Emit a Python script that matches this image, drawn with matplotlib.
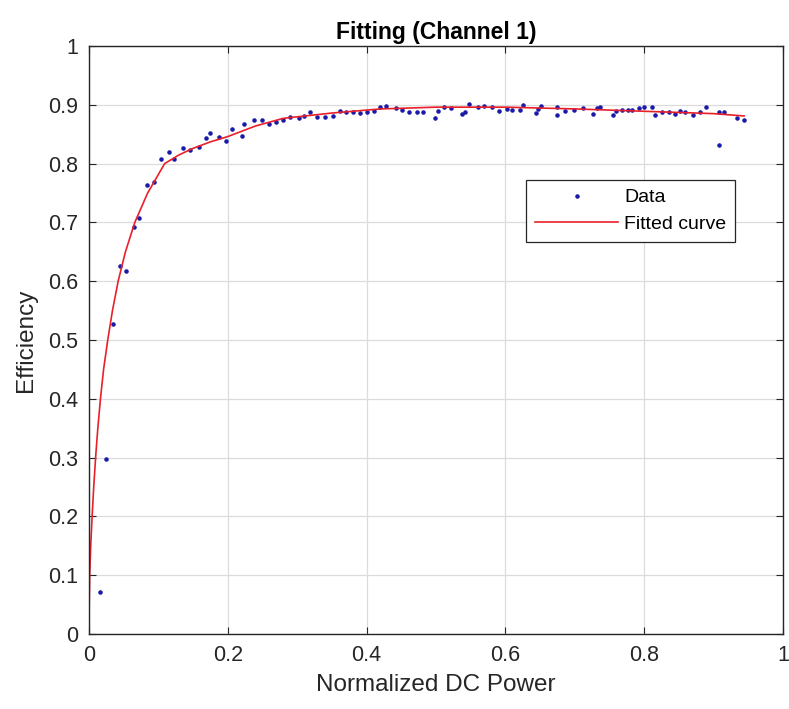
import matplotlib.pyplot as plt

plt.rcParams['font.family'] = ['Liberation Sans', 'DejaVu Sans']

# measured points (normalized DC power, efficiency)
data_x = [0.016, 0.024, 0.035, 0.0445, 0.054, 0.065, 0.072, 0.083, 0.094, 0.104,
          0.115, 0.123, 0.136, 0.146, 0.158, 0.168, 0.175, 0.1875, 0.198, 0.206,
          0.220, 0.224, 0.238, 0.249, 0.260, 0.269, 0.280, 0.290, 0.302, 0.310,
          0.318, 0.328, 0.340, 0.352, 0.361, 0.371, 0.380, 0.390, 0.401, 0.410,
          0.419, 0.428, 0.442, 0.451, 0.461, 0.472, 0.481, 0.499, 0.503, 0.511,
          0.521, 0.537, 0.542, 0.548, 0.561, 0.569, 0.580, 0.591, 0.602, 0.610,
          0.621, 0.626, 0.644, 0.647, 0.651, 0.674, 0.674, 0.686, 0.699, 0.712,
          0.726, 0.732, 0.736, 0.755, 0.760, 0.768, 0.776, 0.783, 0.792, 0.799,
          0.811, 0.816, 0.825, 0.836, 0.844, 0.851, 0.859, 0.871, 0.880, 0.889,
          0.908, 0.908, 0.915, 0.933, 0.944]
data_y = [0.071, 0.298, 0.527, 0.626, 0.617, 0.692, 0.707, 0.764, 0.768, 0.808,
          0.820, 0.808, 0.827, 0.823, 0.829, 0.843, 0.852, 0.846, 0.838, 0.859,
          0.847, 0.868, 0.875, 0.874, 0.867, 0.871, 0.875, 0.880, 0.878, 0.881,
          0.888, 0.879, 0.880, 0.881, 0.890, 0.887, 0.887, 0.886, 0.887, 0.889,
          0.896, 0.898, 0.894, 0.891, 0.888, 0.888, 0.888, 0.877, 0.890, 0.897,
          0.894, 0.884, 0.888, 0.901, 0.896, 0.898, 0.897, 0.890, 0.893, 0.891,
          0.891, 0.900, 0.886, 0.893, 0.898, 0.897, 0.883, 0.890, 0.892, 0.894,
          0.884, 0.894, 0.897, 0.883, 0.890, 0.892, 0.891, 0.892, 0.894, 0.897,
          0.897, 0.883, 0.887, 0.887, 0.884, 0.890, 0.887, 0.883, 0.888, 0.896,
          0.832, 0.888, 0.888, 0.878, 0.875]

# fitted curve
fit_x = [0.0, 0.0003, 0.001, 0.0025, 0.0045, 0.0068, 0.0095, 0.0127, 0.0165,
         0.021, 0.027, 0.0338, 0.042, 0.0525, 0.066, 0.0845, 0.109, 0.13, 0.15,
         0.175, 0.2, 0.24, 0.28, 0.35, 0.42, 0.5, 0.6, 0.7, 0.8, 0.9, 0.944]
fit_y = [0.015, 0.05, 0.1, 0.15, 0.2, 0.25, 0.3, 0.35, 0.4,
         0.45, 0.5, 0.55, 0.6, 0.65, 0.70, 0.75, 0.80, 0.815, 0.826,
         0.837, 0.846, 0.864, 0.877, 0.886, 0.893, 0.896, 0.896, 0.893, 0.889,
         0.885, 0.881]

fig = plt.figure(figsize=(7.89, 7.09), dpi=100)
ax = fig.add_axes([0.1128, 0.1058, 0.8796, 0.8293])

ax.plot(data_x, data_y, '.', color='#1a1aa8', markersize=4.5, label='Data')
ax.plot(fit_x, fit_y, '-', color='#e8202a', lw=1.2, label='Fitted curve')

ax.set_xlim(0, 1)
ax.set_ylim(0, 1)
ax.set_xticks([0, 0.2, 0.4, 0.6, 0.8, 1])
ax.set_xticklabels(['0', '0.2', '0.4', '0.6', '0.8', '1'])
ax.set_yticks([i / 10 for i in range(11)])
ax.set_yticklabels(['0', '0.1', '0.2', '0.3', '0.4', '0.5', '0.6', '0.7', '0.8', '0.9', '1'])
ax.grid(True, color='#dcdcdc', lw=0.9)
ax.set_axisbelow(True)
ax.tick_params(direction='in', top=True, right=True, length=5, labelsize=15.5,
               colors='#262626', pad=8)
for s in ax.spines.values():
    s.set_color('#262626')
    s.set_linewidth(1.0)

ax.set_xlabel('Normalized DC Power', fontsize=17.5, color='#262626', labelpad=6)
ax.set_ylabel('Efficiency', fontsize=17.5, color='#262626', labelpad=8)
ax.set_title('Fitting (Channel 1)', fontsize=16.5, fontweight='bold', pad=5)

leg = ax.legend(loc='upper right', bbox_to_anchor=(0.931, 0.772), borderaxespad=0,
                fontsize=14, fancybox=False, framealpha=1, edgecolor='#262626',
                handlelength=4.3, borderpad=0.45, labelspacing=0.45, handletextpad=0.3)
leg.get_frame().set_linewidth(0.9)

fig.savefig('out.png', dpi=100)
